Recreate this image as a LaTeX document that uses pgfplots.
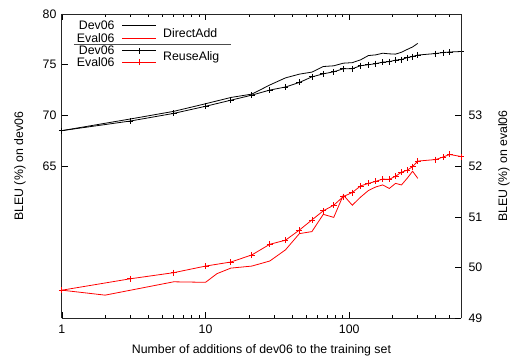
\documentclass[border=0pt]{standalone}
\usepackage{pgfplots}
\pgfplotsset{compat=1.18}
\usepackage{fontspec}
\setmainfont{Liberation Sans}
\begin{document}
\begin{tikzpicture}
\begin{axis}[name=ax,
  scale only axis, width=400bp, height=305bp,
  xmode=log, xmin=1, xmax=600,
  xtick={1,10,100}, xticklabels={1,10,100},
  minor xtick={2,3,4,5,6,7,8,9,20,30,40,50,60,70,80,90,200,300,400,500},
  tick align=inside,
  major tick length=6bp, minor tick length=3bp,
  tick style={line width=0.6pt, black},
  axis line style={line width=0.9pt, black!85},
  /pgf/number format/assume math mode=true,
  tick label style={font=\fontsize{12.4}{14}\selectfont},
  clip=false,
  ymin=50, ymax=80, ytick={65,70,75,80}, yticklabels={65,70,75,80},
  axis y line*=left,
  yticklabel style={xshift=-2bp},
  xticklabel style={yshift=-3bp},
  every axis y label/.style={at={(axis description cs:-0.105,0.5)}, rotate=90, anchor=center, font=\fontsize{12.4}{14}\selectfont},
  every axis x label/.style={at={(axis description cs:0.5,-0.105)}, anchor=center, font=\fontsize{12.4}{14}\selectfont},
  ylabel={BLEU (\%) on dev06},
  xlabel={Number of additions of dev06 to the training set},
]
\addplot[black, line width=0.8pt, no markers] coordinates {
(1,68.5) (3,69.65) (6,70.4) (10,71.15) (15,71.77) (21,72.1) (28,73.0) (36,73.7)
(45,74.07) (55,74.27) (66,74.82) (78,74.89) (91,75.15) (105,75.2) (120,75.48)
(136,75.9) (153,75.97) (171,76.13) (190,76.07) (210,76.04) (231,76.23)
(253,76.5) (276,76.75) (300,77.1)};
\addplot[black, line width=0.8pt, mark=+, mark size=3bp] coordinates {
(1,68.5) (3,69.45) (6,70.2) (10,70.9) (15,71.5) (21,72.0) (28,72.5) (36,72.8)
(45,73.25) (55,73.8) (66,74.1) (78,74.3) (91,74.6) (105,74.6) (120,74.9)
(136,75.0) (153,75.1) (171,75.25) (190,75.3) (210,75.45) (231,75.5)
(253,75.7) (276,75.8) (300,75.95) (400,76.1) (450,76.2) (500,76.25) (600,76.3)};
\end{axis}
\begin{axis}[
  scale only axis, width=400bp, height=305bp,
  xmode=log, xmin=1, xmax=600,
  xtick={1,10,100}, xticklabels={},
  minor xtick={2,3,4,5,6,7,8,9,20,30,40,50,60,70,80,90,200,300,400,500},
  tick align=inside,
  major tick length=6bp, minor tick length=3bp,
  tick style={line width=0.6pt, black},
  axis line style={line width=0.9pt, black!85},
  /pgf/number format/assume math mode=true,
  tick label style={font=\fontsize{12.4}{14}\selectfont},
  clip=false,
  ymin=49, ymax=55, ytick={49,50,51,52,53}, yticklabels={49,50,51,52,53},
  axis y line*=right, axis x line*=top,
  yticklabel style={xshift=4bp},
  every axis y label/.style={at={(axis description cs:1.1075,0.5)}, rotate=90, anchor=center, font=\fontsize{12.4}{14}\selectfont},
  ylabel={BLEU (\%) on eval06},
]
\addplot[red, line width=0.8pt, no markers] coordinates {
(1,49.555) (2,49.457) (6,49.72) (10,49.71) (12,49.88) (15,49.99) (21,50.03)
(28,50.13) (36,50.35) (45,50.67) (55,50.71) (66,51.05) (78,50.99) (91,51.43)
(105,51.23) (120,51.39) (136,51.52) (153,51.59) (171,51.63) (190,51.56)
(210,51.66) (231,51.63) (253,51.76) (276,51.90) (300,51.76)};
\addplot[red, line width=0.8pt, mark=+, mark size=3bp] coordinates {
(1,49.555) (3,49.78) (6,49.90) (10,50.03) (15,50.11) (21,50.25) (28,50.46)
(36,50.54) (45,50.74) (55,50.94) (66,51.12) (78,51.23) (91,51.40) (105,51.48)
(120,51.61) (136,51.66) (153,51.70) (171,51.745) (190,51.74) (210,51.80)
(231,51.88) (253,51.92) (276,51.99) (300,52.10) (400,52.13) (450,52.18)
(500,52.23) (600,52.19)};
\end{axis}
% legend
\begin{scope}[shift={(ax.north west)}, x=1bp, y=1bp, font=\fontsize{12.4}{14}\selectfont]
\node[anchor=east, inner sep=0pt] at (53,-11) {Dev06};
\draw[black, line width=0.8pt] (60.7,-11) -- (94,-11);
\node[anchor=east, inner sep=0pt] at (53,-24.3) {Eval06};
\draw[red, line width=0.8pt] (60.7,-24.3) -- (94,-24.3);
\node[anchor=west, inner sep=0pt] at (101.3,-18.7) {DirectAdd};
\draw[black!70, line width=0.8pt] (12,-30.3) -- (169.7,-30.3);
\node[anchor=east, inner sep=0pt] at (53,-36.7) {Dev06};
\draw[black, line width=0.8pt] (60.7,-36.7) -- (94,-36.7) (77.3,-39.7) -- (77.3,-33.7) (74.3,-36.7) -- (80.3,-36.7);
\node[anchor=east, inner sep=0pt] at (53,-48.3) {Eval06};
\draw[red, line width=0.8pt] (60.7,-48.3) -- (94,-48.3) (77.3,-51.3) -- (77.3,-45.3) (74.3,-48.3) -- (80.3,-48.3);
\node[anchor=west, inner sep=0pt] at (101.3,-43.7) {ReuseAlig};
\end{scope}
\path ([xshift=-62bp,yshift=-39bp]ax.south west) rectangle ([xshift=51bp,yshift=14bp]ax.north east);
\end{tikzpicture}
\end{document}
